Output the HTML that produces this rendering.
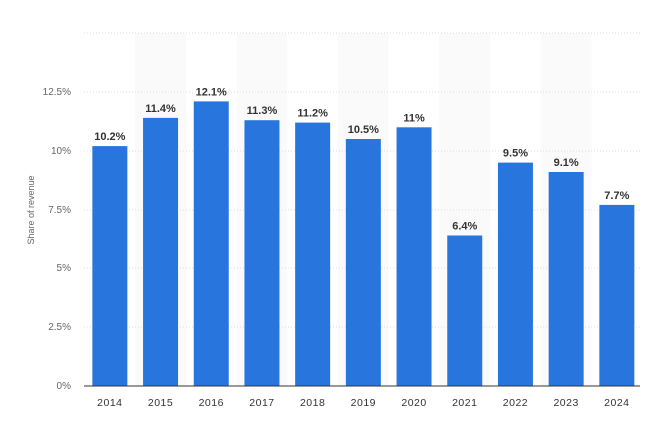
<!DOCTYPE html><html><head><style>body{margin:0;background:#fff}</style></head><body>
<svg width="645" height="428" xmlns="http://www.w3.org/2000/svg" font-family="Liberation Sans, sans-serif">
<g fill="#fafafa">
<rect x="135.2" y="33" width="50.7" height="353"/><rect x="236.6" y="33" width="50.7" height="353"/><rect x="338" y="33" width="50.7" height="353"/><rect x="439.4" y="33" width="50.7" height="353"/><rect x="540.8" y="33" width="50.7" height="353"/>
</g>
<g stroke="#ddd" stroke-dasharray="1,2">
<line x1="84" x2="640" y1="33" y2="33"/><line x1="84" x2="640" y1="92" y2="92"/><line x1="84" x2="640" y1="151" y2="151"/><line x1="84" x2="640" y1="210" y2="210"/><line x1="84" x2="640" y1="268" y2="268"/><line x1="84" x2="640" y1="327" y2="327"/></g>
<g font-size="10" fill="#666" text-anchor="end">
<text x="71" y="95">12.5%</text><text x="71" y="154">10%</text><text x="71" y="213">7.5%</text><text x="71" y="271">5%</text><text x="71" y="330">2.5%</text><text x="71" y="389">0%</text></g>
<text transform="translate(34,210) rotate(-90)" font-size="9" fill="#666" text-anchor="middle">Share of revenue</text>
<g fill="#2876dd">
<rect x="92.35" y="146.1" width="35" height="239.9"/>
<rect x="143.05" y="117.9" width="35" height="268.1"/>
<rect x="193.75" y="101.4" width="35" height="284.6"/>
<rect x="244.45" y="120.2" width="35" height="265.8"/>
<rect x="295.15" y="122.6" width="35" height="263.4"/>
<rect x="345.85" y="139" width="35" height="247"/>
<rect x="396.55" y="127.3" width="35" height="258.7"/>
<rect x="447.25" y="235.5" width="35" height="150.5"/>
<rect x="497.95" y="162.6" width="35" height="223.4"/>
<rect x="548.65" y="172" width="35" height="214"/>
<rect x="599.35" y="204.9" width="35" height="181.1"/>
</g>
<g font-size="11" font-weight="bold" fill="#333" text-anchor="middle">
<text x="109.85" y="140.1">10.2%</text>
<text x="160.55" y="111.9">11.4%</text>
<text x="211.25" y="95.4">12.1%</text>
<text x="261.95" y="114.2">11.3%</text>
<text x="312.65" y="116.6">11.2%</text>
<text x="363.35" y="133">10.5%</text>
<text x="414.05" y="121.3">11%</text>
<text x="464.75" y="229.5">6.4%</text>
<text x="515.45" y="156.6">9.5%</text>
<text x="566.15" y="166">9.1%</text>
<text x="616.85" y="198.9">7.7%</text>
</g>
<g font-size="10.5" fill="#333" text-anchor="middle" letter-spacing="0.5">
<text x="109.85" y="406">2014</text><text x="160.55" y="406">2015</text><text x="211.25" y="406">2016</text><text x="261.95" y="406">2017</text><text x="312.65" y="406">2018</text><text x="363.35" y="406">2019</text><text x="414.05" y="406">2020</text><text x="464.75" y="406">2021</text><text x="515.45" y="406">2022</text><text x="566.15" y="406">2023</text><text x="616.85" y="406">2024</text>
</g>
<line x1="84" x2="640" y1="386" y2="386" stroke="#333" stroke-width="1"/>
</svg></body></html>
